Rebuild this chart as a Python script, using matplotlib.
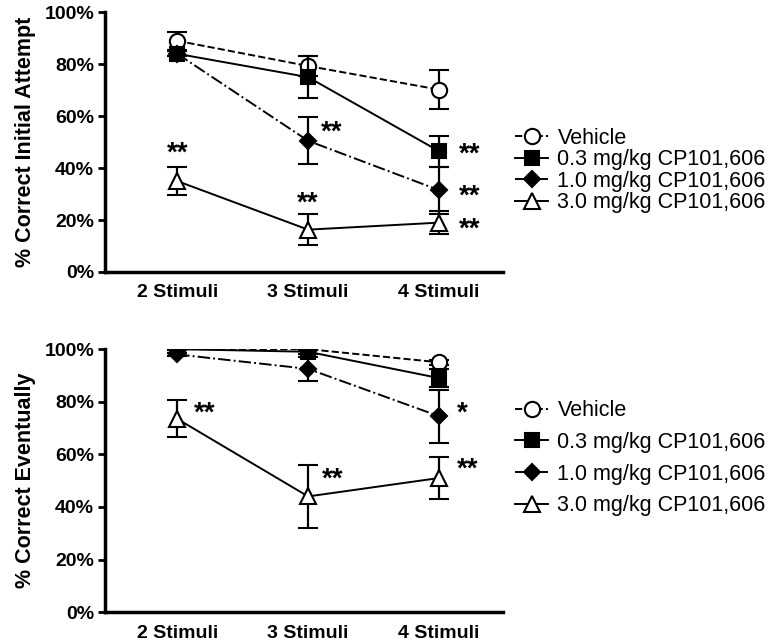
import matplotlib.pyplot as plt
import numpy as np

CATEGORIES = ["2 Stimuli", "3 Stimuli", "4 Stimuli"]
SERIES_NAMES = ["Vehicle", "0.3 mg/kg CP101,606", "1.0 mg/kg CP101,606",
                "3.0 mg/kg CP101,606"]

# % correct on initial attempt (mean, error)
INITIAL_MEAN = [
    [89.0, 79.3, 70.2],
    [84.0, 75.0, 46.5],
    [84.0, 50.5, 31.5],
    [35.0, 16.3, 19.0],
]
INITIAL_ERR = [
    [3.5, 4.0, 7.5],
    [1.0, 8.0, 6.0],
    [1.0, 9.0, 9.0],
    [5.5, 6.0, 4.5],
]

# % correct eventually (mean, error)
EVENTUAL_MEAN = [
    [100.0, 100.0, 95.0],
    [100.0, 99.0, 89.0],
    [98.0, 92.5, 74.5],
    [73.5, 44.0, 51.0],
]
EVENTUAL_ERR = [
    [0.5, 0.5, 1.0],
    [0.5, 1.0, 3.5],
    [0.5, 4.5, 10.0],
    [7.0, 12.0, 8.0],
]

# significance marks: (category index, y value, text)
INITIAL_STARS = [(0, 47, "**"), (1, 55, "**"), (1, 28, "**"),
                 (2, 46.8, "**"), (2, 30.6, "**"), (2, 17.8, "**")]
EVENTUAL_STARS = [(0, 76.8, "**"), (1, 51.8, "**"), (2, 76.8, "*"),
                  (2, 55.8, "**")]
INITIAL_STAR_DX = [0.0, 0.18, 0.0, 0.23, 0.23, 0.23]
EVENTUAL_STAR_DX = [0.21, 0.19, 0.18, 0.22]

STYLES = [
    dict(marker="o", mfc="white", ls="--", ms=11),
    dict(marker="s", mfc="black", ls="-", ms=10),
    dict(marker="D", mfc="black", ls="-.", ms=8.5),
    dict(marker="^", mfc="white", ls="-", ms=12),
]


def draw_panel(ax, means, errs, stars, star_dx, ylabel, label_spacing,
               legend_y):
    x_pos = np.arange(len(CATEGORIES))
    for i, name in enumerate(SERIES_NAMES):
        st = STYLES[i]
        ax.errorbar(x_pos, means[i], yerr=errs[i], color="black",
                    marker=st["marker"], mfc=st["mfc"], mec="black",
                    mew=1.5, ms=st["ms"], ls=st["ls"], lw=1.4,
                    elinewidth=1.6, capsize=7, capthick=1.6,
                    label=name, zorder=3 + i)
    for (cat, yv, txt), dx in zip(stars, star_dx):
        ax.text(cat + dx, yv - 1.5, txt, ha="center", va="center",
                fontsize=20, fontweight="bold")

    ax.set_xlim(-0.55, 2.49)
    ax.set_ylim(0, 100)
    ax.set_yticks(np.arange(0, 101, 20))
    ax.set_yticklabels([f"{v}%" for v in range(0, 101, 20)],
                       fontweight="bold", fontsize=14)
    ax.set_xticks(x_pos)
    ax.set_xticklabels(CATEGORIES, fontweight="bold", fontsize=14)
    ax.tick_params(axis="x", length=0, pad=9)
    ax.tick_params(axis="y", length=5, width=2, direction="out", pad=3)
    ax.set_ylabel(ylabel, fontweight="bold", fontsize=15.5, labelpad=6)
    for side in ["top", "right"]:
        ax.spines[side].set_visible(False)
    for side in ["left", "bottom"]:
        ax.spines[side].set_linewidth(2.5)

    handles, labels = ax.get_legend_handles_labels()
    handles = [h[0] for h in handles]
    ax.legend(handles, labels, loc="center left",
              bbox_to_anchor=(0.982, legend_y), frameon=False,
              fontsize=15.5, handlelength=1.5, handletextpad=0.45,
              labelspacing=label_spacing)


def main():
    plt.rcParams["font.family"] = ["Liberation Sans", "DejaVu Sans"]
    fig = plt.figure(figsize=(7.79, 6.43), dpi=100)
    ax_top = fig.add_axes([0.135, 0.577, 0.511, 0.404])
    ax_bot = fig.add_axes([0.135, 0.048, 0.511, 0.409])

    draw_panel(ax_top, INITIAL_MEAN, INITIAL_ERR, INITIAL_STARS,
               INITIAL_STAR_DX, "% Correct Initial Attempt", 0.02, 0.39)
    draw_panel(ax_bot, EVENTUAL_MEAN, EVENTUAL_ERR, EVENTUAL_STARS,
               EVENTUAL_STAR_DX, "% Correct Eventually", 0.5, 0.585)

    fig.savefig("out.png", dpi=100)


if __name__ == "__main__":
    main()
